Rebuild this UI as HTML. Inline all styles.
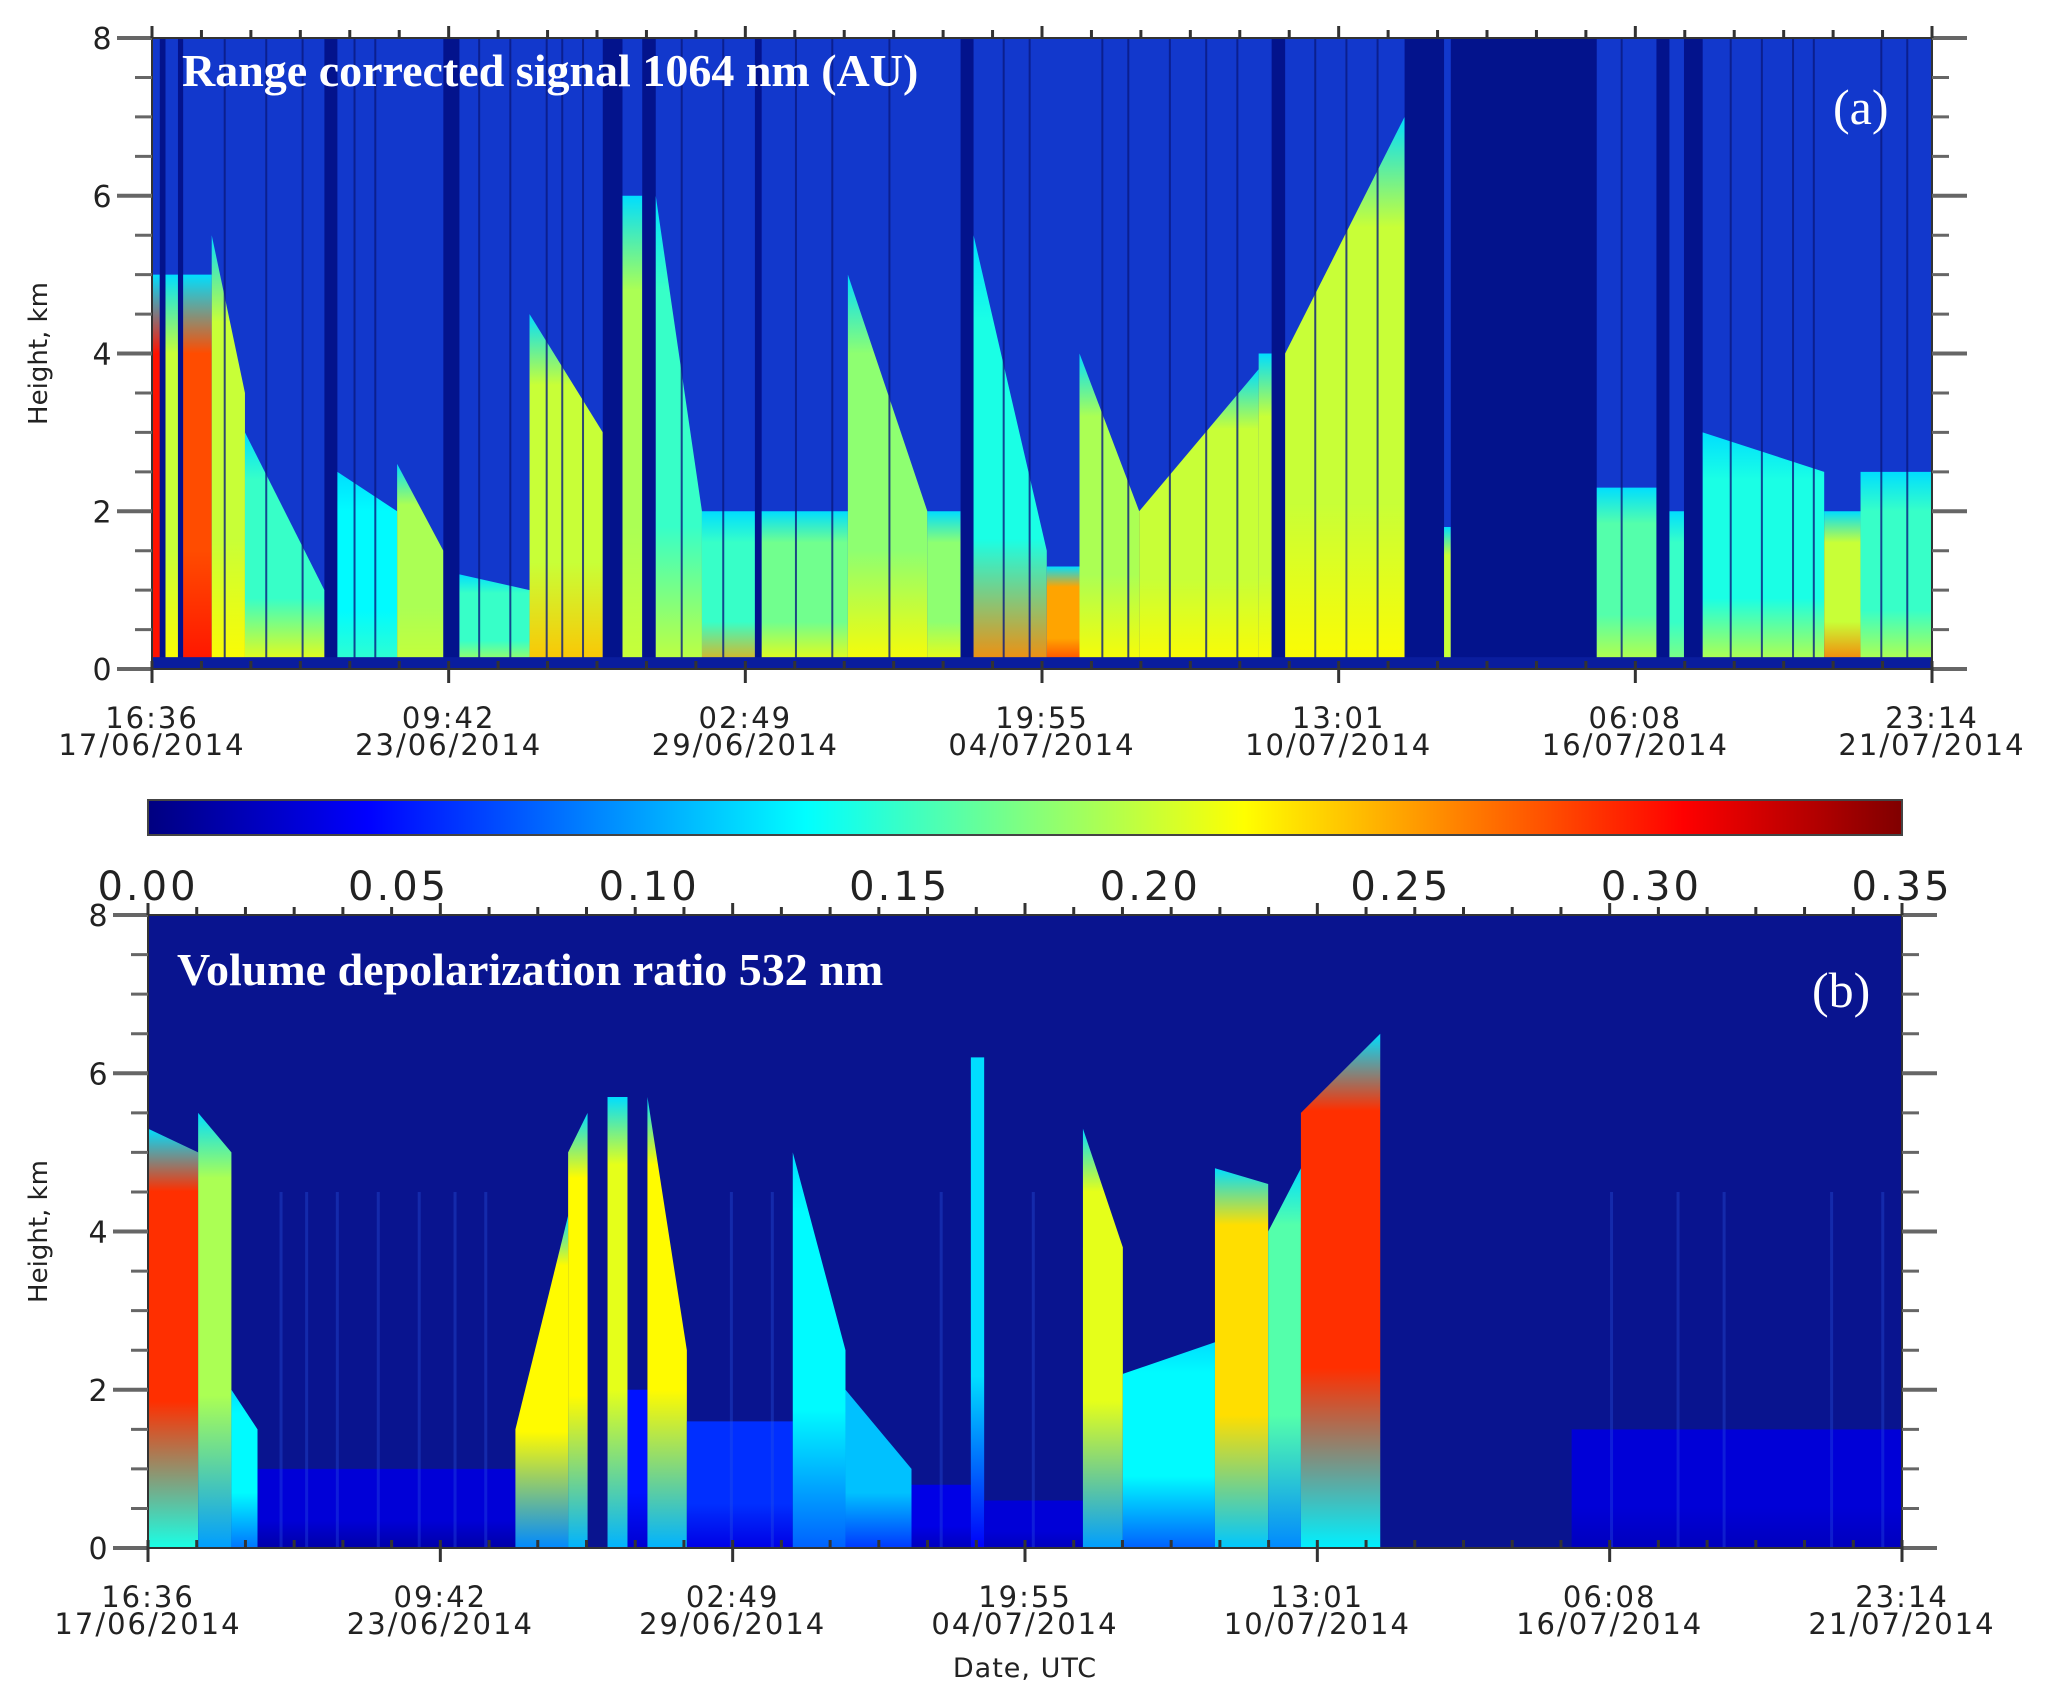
<!DOCTYPE html>
<html><head><meta charset="utf-8"><style>
html,body{margin:0;padding:0;background:#fff;}
svg{display:block;}
</style></head><body>
<svg id="fig" width="2067" height="1695" viewBox="0 0 2067 1695" xmlns="http://www.w3.org/2000/svg" font-family="DejaVu Sans, Liberation Sans, sans-serif">
<defs id="defs"></defs>
<g id="panelA"></g>
<g id="cbar"></g>
<g id="panelB"></g>
</svg>
<script>
// ---- data (days since 16:36 17/06/2014; heights km; values on colorbar scale 0-0.35) ----
const tickLabelsTime = ["16:36","09:42","02:49","19:55","13:01","06:08","23:14"];
const tickLabelsDate = ["17/06/2014","23/06/2014","29/06/2014","04/07/2014","10/07/2014","16/07/2014","21/07/2014"];
const totalDays = 34.276;
const heightTicks = [0,2,4,6,8];
const cbarTicks = [0,0.05,0.10,0.15,0.20,0.25,0.30,0.35];
const cbarLabels = ["0.00","0.05","0.10","0.15","0.20","0.25","0.30","0.35"];

const aStart = [0,0.15,0.26,0.5,0.6,1.15,1.79,3.32,3.57,4.72,5.61,5.92,7.27,8.68,9.06,9.44,9.70,10.59,11.61,11.74,13.40,14.93,15.57,15.82,17.23,17.86,19.01,21.31,21.56,21.82,24.12,24.88,25.01,27.82,28.97,29.22,29.5,29.86,32.2,32.9];
const aEnd   = [0.15,0.26,0.5,0.6,1.15,1.79,3.32,3.57,4.72,5.61,5.92,7.27,8.68,9.06,9.44,9.70,10.59,11.61,11.74,13.40,14.93,15.57,15.82,17.23,17.86,19.01,21.31,21.56,21.82,24.12,24.88,25.01,27.82,28.97,29.22,29.5,29.86,32.2,32.9,34.276];
const aTop0  = [5,0,5,0,5,5.5,3.0,0,2.5,2.6,0,1.2,4.5,0,6,0,6,2,0,2,5,2,0,5.5,1.3,4,2,4,0,4,0,1.8,0,2.3,0,2.0,0,3,2,2.5];
const aTop1  = [5,0,5,0,5,3.5,1.0,0,2.0,1.5,0,1.0,3.0,0,6,0,2,2,0,2,2,2,0,1.5,1.3,2,3.8,4,0,7,0,1.8,0,2.3,0,2.0,0,2.5,2,2.5];
const aBase  = [0.30,0,0.22,0,0.30,0.22,0.22,0,0.15,0.20,0,0.20,0.24,0,0.20,0,0.20,0.25,0,0.22,0.22,0.22,0,0.26,0.29,0.22,0.22,0.22,0,0.22,0,0.20,0,0.20,0,0.18,0,0.20,0.27,0.20];
const aBody  = [0.30,0,0.20,0,0.28,0.20,0.15,0,0.13,0.19,0,0.15,0.20,0,0.19,0,0.15,0.15,0,0.17,0.18,0.18,0,0.14,0.25,0.19,0.20,0.20,0,0.20,0,0.20,0,0.16,0,0.15,0,0.14,0.20,0.15];
const aGap   = [0,1,0,1,0,0,0,1,0,0,1,0,0,1,0,1,0,0,1,0,0,0,1,0,0,0,0,0,1,0,1,0,1,0,1,0,1,0,0,0];
const aLines = [1.4,2.2,2.9,3.9,4.3,6.3,6.9,7.6,7.9,8.3,10.2,11.0,12.4,13.1,14.2,16.4,16.9,18.3,18.8,19.6,20.3,20.9,22.4,23.0,23.6,28.3,30.4,31.0,31.6,32.0,33.3,33.8];

const bStart = [0,0.98,1.63,2.14,7.18,8.21,8.59,8.98,9.37,9.76,10.53,12.60,13.63,14.92,16.08,16.34,18.27,19.05,20.85,21.89,22.53,24.08,27.82];
const bEnd   = [0.98,1.63,2.14,7.18,8.21,8.59,8.98,9.37,9.76,10.53,12.60,13.63,14.92,16.08,16.34,18.27,19.05,20.85,21.89,22.53,24.08,27.82,34.276];
const bTop0  = [5.3,5.5,2.0,1.0,1.5,5.0,0,5.7,2.0,5.7,1.6,5.0,2.0,0.8,6.2,0.6,5.3,2.2,4.8,4.0,5.5,0,1.5];
const bTop1  = [5.0,5.0,1.5,1.0,4.2,5.5,0,5.7,2.0,2.5,1.6,2.5,1.0,0.8,6.2,0.6,3.8,2.6,4.6,4.8,6.5,0,1.5];
const bBase  = [0.20,0.14,0.12,0.02,0.13,0.15,0,0.15,0.04,0.15,0.05,0.11,0.09,0.03,0.06,0.03,0.14,0.11,0.16,0.13,0.18,0,0.03];
const bBody  = [0.29,0.19,0.13,0.03,0.22,0.22,0,0.21,0.05,0.22,0.06,0.13,0.11,0.035,0.12,0.03,0.21,0.13,0.23,0.16,0.29,0,0.03];
const bLines = [2.6,3.1,3.7,4.5,5.3,6.0,6.6,11.4,12.2,15.5,17.3,28.6,29.9,30.8,32.9,33.9];

// ---- geometry ----
const A = {x0:152, x1:1932, y0:669, y8:38};
const B = {x0:148, x1:1902, y0:1548, y8:915};
const CB = {x0:148, x1:1902, y0:800, y1:835};
const NS = "http://www.w3.org/2000/svg";
function xs(P,d){return P.x0 + d/totalDays*(P.x1-P.x0);}
function ys(P,h){return P.y0 - h/8*(P.y0-P.y8);}
function cl(v){return Math.max(0,Math.min(1,v));}
function jet(v){const t=cl(v/0.35);
  const r=cl(1.5-Math.abs(4*t-3)), g=cl(1.5-Math.abs(4*t-2)), b=cl(1.5-Math.abs(4*t-1));
  return `rgb(${Math.round(r*255)},${Math.round(g*255)},${Math.round(b*255)})`;}
function mk(tag,attrs,parent){const e=document.createElementNS(NS,tag);for(const k in attrs)e.setAttribute(k,attrs[k]);parent.appendChild(e);return e;}
const defs=document.getElementById('defs');
let gid=0;
function grad(stops){const id='g'+(gid++);
  const g=mk('linearGradient',{id:id,x1:0,y1:1,x2:0,y2:0},defs);
  stops.forEach(s=>mk('stop',{offset:s[0],'stop-color':jet(s[1])},g));return id;}
const serif='font-family:"Liberation Serif",serif';

function axes(P,g,name){
  const f=mk('rect',{x:P.x0,y:P.y8,width:P.x1-P.x0,height:P.y0-P.y8,fill:'none',stroke:'#333','stroke-width':2},g);
  
  
  for(let h=0;h<=8.001;h+=0.5){const y=ys(P,h);const major=Math.abs(h%2)<0.01;
    const L=major?35:17;
    mk('line',{x1:P.x0-L,y1:y,x2:P.x0,y2:y,stroke:'#666','stroke-width':major?4:3},g);
    mk('line',{x1:P.x1,y1:y,x2:P.x1+L,y2:y,stroke:'#666','stroke-width':major?4:3},g);}
  heightTicks.forEach(h=>{const t=mk('text',{x:P.x0-50,y:ys(P,h)+11,'font-size':30,'text-anchor':'middle',fill:'#222'},g);t.textContent=h;
    
    });
  const yt=mk('text',{transform:`translate(47,${(P.y0+P.y8)/2}) rotate(-90)`,'font-size':26,'text-anchor':'middle',fill:'#222'},g);
  yt.textContent='Height, km';
  
  
  const n=tickLabelsTime.length-1;
  for(let i=0;i<=n*6;i++){const x=P.x0+i/(n*6)*(P.x1-P.x0);const major=i%6==0;
    if(major) mk('line',{x1:x,y1:P.y0,x2:x,y2:P.y0+14,stroke:'#333','stroke-width':3},g);
    mk('line',{x1:x,y1:P.y0,x2:x,y2:P.y0-8,stroke:'#333','stroke-width':3},g);
    mk('line',{x1:x,y1:P.y8,x2:x,y2:P.y8-(major?12:8),stroke:'#333','stroke-width':3},g);}
  tickLabelsTime.forEach((s,i)=>{const x=P.x0+i/n*(P.x1-P.x0);
    const t1=mk('text',{x:x,y:P.y0+59,'font-size':29,'text-anchor':'middle',fill:'#222','letter-spacing':2},g);t1.textContent=s;
    
    
    const t2=mk('text',{x:x,y:P.y0+86,'font-size':29,'text-anchor':'middle',fill:'#222','letter-spacing':2},g);t2.textContent=tickLabelsDate[i];
    
    });
}

// ---- panel A ----
const gA=document.getElementById('panelA');
const bgA=mk('rect',{x:A.x0,y:A.y8,width:A.x1-A.x0,height:A.y0-A.y8,fill:'#1238cc'},gA);


aStart.forEach((s,i)=>{
  const x0=xs(A,s),x1=xs(A,aEnd[i]);
  if(aGap[i]){const r=mk('rect',{x:x0,y:A.y8,width:x1-x0,height:A.y0-A.y8,fill:'#03138c'},gA);
    
    return;}
  const id=grad([[0,aBase[i]],[0.3,aBody[i]],[0.8,aBody[i]],[1,0.12]]);
  const yTop0=ys(A,aTop0[i]),yTop1=ys(A,aTop1[i]);
  const p=mk('polygon',{points:`${x0},${A.y0} ${x0},${yTop0} ${x1},${yTop1} ${x1},${A.y0}`,fill:`url(#${id})`},gA);
  
  
});
aLines.forEach(d=>{const l=mk('line',{x1:xs(A,d),y1:A.y8,x2:xs(A,d),y2:A.y0,stroke:'#0a1a80','stroke-width':2,opacity:0.8},gA);
  
  });
const grd=mk('rect',{x:A.x0,y:ys(A,0.15),width:A.x1-A.x0,height:A.y0-ys(A,0.15),fill:'#0a1d9e'},gA);


axes(A,gA,'panel-a');
const tA=mk('text',{x:182,y:86,'font-size':46,'font-weight':'bold',fill:'#fff',style:serif},gA);
tA.textContent='Range corrected signal 1064 nm (AU)';


const lA=mk('text',{x:1833,y:124,'font-size':50,fill:'#fff',style:serif},gA);
lA.textContent='(a)';



// ---- colorbar ----
const gC=document.getElementById('cbar');
const cg=mk('linearGradient',{id:'cbg',x1:0,y1:0,x2:1,y2:0},defs);
for(let i=0;i<=40;i++){mk('stop',{offset:i/40,'stop-color':jet(0.35*i/40)},cg);}
const cr=mk('rect',{x:CB.x0,y:CB.y0,width:CB.x1-CB.x0,height:CB.y1-CB.y0,fill:'url(#cbg)',stroke:'#444','stroke-width':2},gC);


cbarTicks.forEach((v,i)=>{const t=mk('text',{x:CB.x0+v/0.35*(CB.x1-CB.x0),y:900,'font-size':40,'text-anchor':'middle',fill:'#222','letter-spacing':3},gC);
  t.textContent=cbarLabels[i];
  
  });

// ---- panel B ----
const gB=document.getElementById('panelB');
const bgB=mk('rect',{x:B.x0,y:B.y8,width:B.x1-B.x0,height:B.y0-B.y8,fill:'#09148f'},gB);


bStart.forEach((s,i)=>{
  if(bTop0[i]<=0)return;
  const x0=xs(B,s),x1=xs(B,bEnd[i]);
  const id=grad([[0,bBase[i]*0.7],[0.35,bBody[i]],[0.85,bBody[i]],[1,Math.min(bBody[i],0.12)]]);
  const p=mk('polygon',{points:`${x0},${B.y0} ${x0},${ys(B,bTop0[i])} ${x1},${ys(B,bTop1[i])} ${x1},${B.y0}`,fill:`url(#${id})`},gB);
  
  
});
bLines.forEach(d=>{const l=mk('line',{x1:xs(B,d),y1:ys(B,4.5),x2:xs(B,d),y2:B.y0,stroke:'#2a55e0','stroke-width':3,opacity:0.35},gB);
  
  });
axes(B,gB,'panel-b');
const tB=mk('text',{x:177,y:985,'font-size':46,'font-weight':'bold',fill:'#fff',style:serif},gB);
tB.textContent='Volume depolarization ratio 532 nm';


const lB=mk('text',{x:1812,y:1007,'font-size':50,fill:'#fff',style:serif},gB);
lB.textContent='(b)';


const xt=mk('text',{x:1025,y:1677,'font-size':27,'text-anchor':'middle',fill:'#222','letter-spacing':1},gB);
xt.textContent='Date, UTC';


</script>
</body></html>
